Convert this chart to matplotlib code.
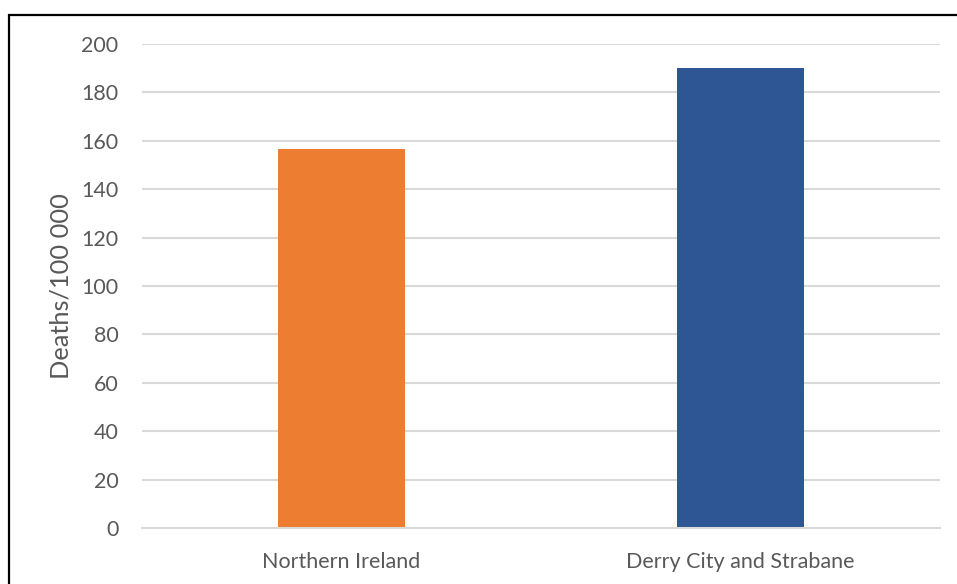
import matplotlib
matplotlib.use("Agg")
import matplotlib.pyplot as plt
from matplotlib.patches import Rectangle

# Data
categories = ["Northern Ireland", "Derry City and Strabane"]
values = [156.5, 190.0]
bar_colors = ["#ED7D31", "#2E5594"]
y_ticks = list(range(0, 201, 20))

TEXT = "#595959"
GRID = "#D9D9D9"

plt.rcParams["font.family"] = ["Lato", "DejaVu Sans"]

fig = plt.figure(figsize=(9.57, 5.84), dpi=100)
ax = fig.add_axes([142 / 957, 1 - 528 / 584, (940 - 142) / 957, (528 - 44) / 584])

x = range(len(categories))
ax.bar(x, values, width=0.316, color=bar_colors, zorder=3)

ax.set_xlim(-0.5, len(categories) - 0.5)
ax.set_ylim(0, 200)
ax.set_yticks(y_ticks)
ax.set_xticks(list(x))
ax.set_xticklabels(categories)

ax.grid(axis="y", color=GRID, linewidth=1.5, zorder=0)
ax.set_axisbelow(True)
for side in ["left", "right", "top"]:
    ax.spines[side].set_visible(False)
ax.spines["bottom"].set_color(GRID)
ax.spines["bottom"].set_linewidth(1.5)
ax.spines["bottom"].set_zorder(4)

ax.tick_params(axis="both", length=0, labelsize=15.5, colors=TEXT)
ax.tick_params(axis="y", pad=17)
ax.tick_params(axis="x", pad=17)
ax.set_ylabel("Deaths/100 000", fontsize=18.3, color=TEXT, labelpad=6)

# outer chart border (only top and left edges fall inside the image)
fig.patches.append(Rectangle((9 / 957, -0.1), 1.2, 1 - 15 / 584 + 0.1,
                             transform=fig.transFigure, fill=False,
                             edgecolor="black", linewidth=1.6))

fig.savefig("out.png", dpi=100)
